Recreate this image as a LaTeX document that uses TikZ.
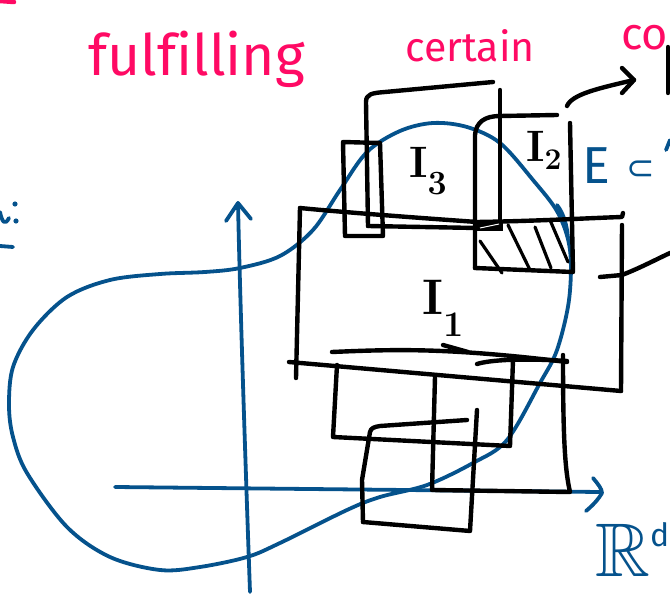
\documentclass[tikz,border=0pt]{standalone}
\usepackage{fontspec}
\usepackage{amssymb}
\newfontfamily\handfont[Ligatures=NoCommon]{Fira Sans}
\newfontfamily\symfont{DejaVu Sans}
\definecolor{penpink}{RGB}{255,10,100}
\definecolor{penblue}{RGB}{5,82,140}
\begin{document}
\begin{tikzpicture}[x=1pt,y=-1pt,
  ink/.style={line width=4.4pt, line cap=round, line join=round, black},
  blueink/.style={line width=3.8pt, line cap=round, line join=round, penblue},
  pinkink/.style={line width=4.5pt, line cap=round, penpink},
  hatchline/.style={line width=3.2pt, line cap=round, black},
  pinkword/.style={text=penpink, inner sep=0pt, anchor=base west, font=\handfont},
  label/.style={inner sep=0pt, anchor=base west, text=black},
]
\clip (0,0) rectangle (670,596);

% ---- pink heading words ----
\node[pinkword, font=\handfont\fontsize{57}{57}\selectfont] (wfulfil) at (88,76) {fulfilling};
\node[pinkword, font=\handfont\fontsize{41}{41}\selectfont] (wcertain) at (405,62) {certain};
\node[pinkword, font=\handfont\fontsize{45}{45}\selectfont] (wco) at (621,50) {co};
\draw[pinkink] (0,1) -- (14,2);
\draw[ink] (668,47) -- (668,93);

% ---- blue set E and the axes ----
\draw[blueink] plot[smooth cycle, tension=0.55] coordinates {
  (110,280) (160,274) (205,272) (240,268) (280,256) (313,230) (340,190)
  (367,152) (400,131) (433,123) (467,127) (500,143) (533,180) (558,213)
  (570,250) (569,300) (557,350) (540,383) (507,440) (473,463) (427,485)
  (380,497) (347,510) (280,543) (247,557) (200,567) (160,570) (110,557)
  (67,527) (27,473) (13,437) (9,405) (13,367) (33,330) (67,297)};
\draw[blueink] (557,205) .. controls (564,214) and (567,226) .. (568,238);
% vertical axis
\coordinate (vbot) at (250,592);
\coordinate (vtop) at (238,203);
\draw[blueink] (vbot) .. controls (246,480) and (240,300) .. (vtop);
\draw[blueink] (226,221) -- (vtop) -- (251,219);
% horizontal axis
\coordinate (hleft) at (115,487);
\coordinate (hright) at (600,492);
\draw[blueink] (hleft) -- (hright);
\draw[blueink] (593,478) .. controls (598,484) and (602,489) .. (602,493) .. controls (598,500) and (592,506) .. (586,511);
% labels in blue
\node[label, text=penblue, font=\fontsize{76}{76}\selectfont] (rd) at (595,576)
  {$\mathbb{R}$\raisebox{30pt}{\handfont\fontsize{32}{32}\selectfont d}};
\node[label, text=penblue, font=\handfont\fontsize{52}{52}\selectfont] (ee) at (582,184) {E};
\node[label, text=penblue, font=\symfont\fontsize{34}{34}\selectfont] (sub) at (626,180) {⊂};
\draw[blueink] (666,150) -- (670,140);
% marks at the left border
\draw[blueink] (0,212) .. controls (2,222) and (5,226) .. (9,218);
\fill[penblue] (15,204) circle (2.6pt);
\fill[penblue] (16,221) circle (2.6pt);
\draw[blueink] (0,246) -- (13,247);

% ---- black boxes ----
% box I1
\draw[ink] (300,208) .. controls (340,212) and (420,218) .. (477,222) .. controls (540,221) and (590,218) .. (622,217) -- (623,213);
\draw[ink] (300,208) -- (296,378);
\draw[ink] (622,225) -- (621,391);
\draw[ink] (289,362) -- (621,391);
\draw[ink] (600,277) -- (622,275) .. controls (640,268) and (655,260) .. (670,253);
% narrow box on the left
\draw[ink] (343,142) -- (380,143) -- (383,236) -- (345,236) -- cycle;
% tall box with I3
\draw[ink] (368,226) -- (366,102) .. controls (366,94) and (372,93) .. (385,92) -- (493,82);
\draw[ink] (500,90) -- (500,228);
\draw[ink] (368,226) -- (477,228);
% box with I2
\draw[ink] (475,268) -- (475,135) .. controls (476,122) and (485,116) .. (500,116) -- (557,115);
\draw[ink] (570,123) -- (573,272) -- (475,268);
\fill (476,221) rectangle (503,231);
\draw[white, line width=1pt] (480,228) -- (499,224);
% hatching of the overlap
\draw[hatchline] (480,241) -- (502,273);
\draw[hatchline] (508,225) -- (530,270);
\draw[hatchline] (535,227) -- (551,268);
\draw[hatchline] (550,220) -- (568,262);
% arrow leaving towards the right
\coordinate (arrtip) at (634,80);
\draw[ink] (567,106) .. controls (572,94) and (600,88) .. (arrtip);
\draw[ink] (622,68) -- (arrtip) -- (622,93);

% lower boxes
\draw[ink] (332,352) .. controls (400,349) and (450,348) .. (567,362);
\draw[ink] (443,345) -- (468,352);
\draw[ink] (477,364) .. controls (490,360) and (520,358) .. (567,361);
\draw[ink] (337,365) -- (333,437) -- (510,446) -- (513,360);
\draw[ink] (435,377) -- (432,490) -- (570,492) .. controls (565,470) and (563,440) .. (563,355);
\draw[ink] (363,522) -- (362,480) -- (370,432) .. controls (371,428) and (374,427) .. (380,426) -- (467,420);
\draw[ink] (363,522) -- (470,531) -- (477,410);

% ---- box labels ----
\node[label, font=\bfseries\fontsize{44}{44}\selectfont] (lthree) at (409,178) {I\raisebox{-17pt}{\fontsize{34}{34}\selectfont 3}};
\node[label, font=\bfseries\fontsize{44}{44}\selectfont] (ltwo) at (526,162) {I\raisebox{-8pt}{\fontsize{30}{30}\selectfont 2}};
\node[label, font=\bfseries\fontsize{50}{50}\selectfont] (lone) at (422,315) {I\raisebox{-22pt}{\fontsize{36}{36}\selectfont 1}};
\end{tikzpicture}
\end{document}
